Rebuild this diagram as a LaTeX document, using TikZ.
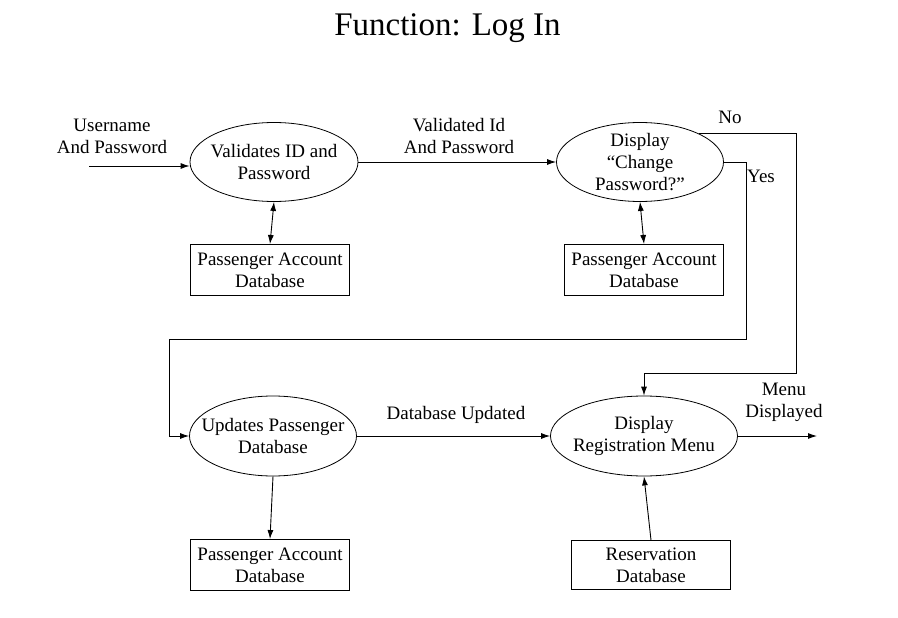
\documentclass[tikz,border=0pt]{standalone}
\usepackage{fontspec}
\setmainfont{Liberation Serif}
\usetikzlibrary{shapes.geometric,arrows.meta}
\begin{document}
\begin{tikzpicture}[x=1pt,y=-1pt]
		\tikzstyle{process}=[ellipse,draw=black,line width=0.8pt,inner xsep=-20pt,inner ysep=-15pt,align=center,minimum height=79pt]
		\tikzstyle{store}=[rectangle,draw=black,line width=0.9pt,inner sep=0pt,align=center,minimum width=159pt,minimum height=51pt]
		\tikzstyle{flow}=[align=center]
		\tikzstyle{edge}=[draw, line width=0.9pt, -{Latex[length=9pt,width=6pt]}]
		\tikzstyle{biedge}=[draw, line width=0.9pt, {Latex[length=9pt,width=6pt]}-{Latex[length=9pt,width=6pt]}]
		\useasboundingbox (0,0) rectangle (898,618);
		\fontsize{19}{22}\selectfont
		\begin{scope}
			\node [anchor=base] (title) at (447.5,36) {\fontsize{33}{36}\selectfont Function: Log In};
			\node [process,minimum width=168pt] (v1) at (274,162) {Validates ID and\\Password};
			\node [process,minimum width=167pt] (v2) at (640,162) {Display\\“Change\\Password?”};
			\node [process,minimum width=167pt,minimum height=80pt] (u) at (273,436) {Updates Passenger\\Database};
			\node [process,minimum width=187pt,minimum height=80pt] (r) at (644,436) {Display\\Registration Menu};
			\node [store] (d1) at (270,270) {Passenger Account\\Database};
			\node [store] (d2) at (644,270) {Passenger Account\\Database};
			\node [store] (d3) at (270,565) {Passenger Account\\Database};
			\node [store,minimum height=49pt] (d4) at (651,565) {Reservation\\Database};
			\coordinate (in) at (89,166);
			\coordinate (out) at (817,436);
			\coordinate (nobend) at (796,373);
			\coordinate (yesbend) at (746,339);
			\coordinate (yesleft) at (169,339);
			\node [flow] (inlabel) at (112,136) {Username\\And Password};
			\node [flow] (vlabel) at (459,136) {Validated Id\\And Password};
			\node [flow] (nolabel) at (730,117) {No};
			\node [flow] (yeslabel) at (761,176) {Yes};
			\node [flow] (ulabel) at (456,415) {Database Updated};
			\node [flow] (outlabel) at (784,402) {Menu\\Displayed};
			\path[edge] (in) -- (in -| v1.west);
			\path[edge] (v1) -- (v2);
			\path[biedge] (d1.north) -- (v1.south);
			\path[biedge] (d2.north) -- (v2.south);
			\path[edge] (v2.north east) -| (nobend) -| (r.north);
			\path[edge] (v2.east) -| (yesbend) -- (yesleft) |- (u.west);
			\path[edge] (u) -- (r);
			\path[edge] (r) -- (out);
			\path[edge] (u.south) -- (d3.north);
			\path[edge] (d4.north) -- (r.south);
		\end{scope}
\end{tikzpicture}
\end{document}
